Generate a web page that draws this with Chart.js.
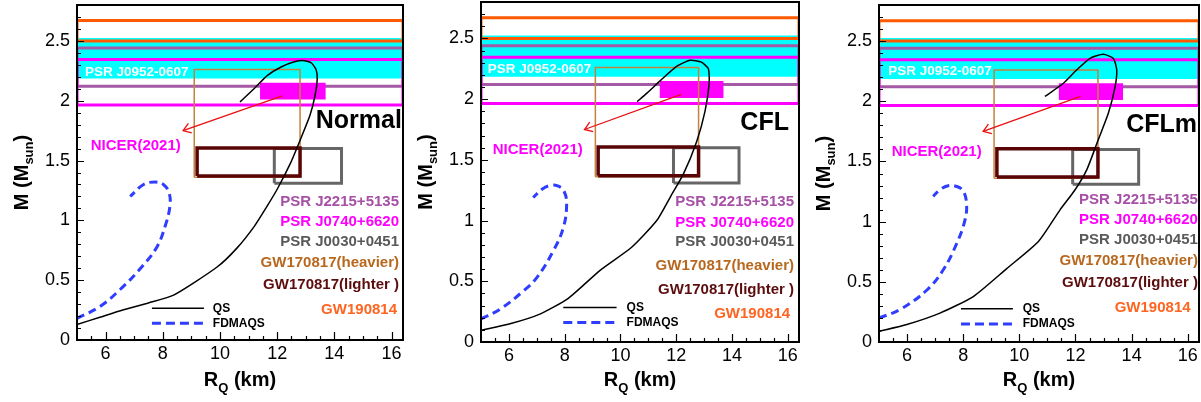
<!DOCTYPE html>
<html>
<head>
<meta charset="utf-8">
<script src="https://cdn.jsdelivr.net/npm/chart.js@4.4.1/dist/chart.umd.min.js"></script>
<style>
html, body { margin: 0; padding: 0; background: #fff; }
#wrap { position: relative; width: 1201px; height: 402px; overflow: hidden; }
canvas { position: absolute; top: 0; }
</style>
</head>
<body>
<div id="wrap">
<canvas id="c0" width="405" height="402" style="left:0px"></canvas>
<canvas id="c1" width="398" height="402" style="left:404px"></canvas>
<canvas id="c2" width="399" height="402" style="left:802px"></canvas>
</div>
<script>
// axes
const xRange = [5, 16.4];
const yRange = [0, 2.8];
const xTicks = [6, 8, 10, 12, 14, 16];
const yTicks = [0, 0.5, 1, 1.5, 2, 2.5];
const panelNames = ['Normal', 'CFL', 'CFLm'];

// M-R curves, [R (km), M (Msun)]
const qsNormal = [[5.0,0.13],[5.8,0.19],[6.6,0.25],[7.5,0.31],[8.38,0.375],[9.9,0.61],[10.6,0.77],[11.2,0.95],[11.6,1.1],[12.0,1.26],[12.47,1.48],[12.82,1.68],[13.15,1.88],[13.33,2.05],[13.4,2.18],[13.36,2.26],[13.2,2.315],[12.95,2.335],[12.6,2.325],[12.12,2.28],[11.65,2.21],[11.19,2.10],[10.7,1.99]];
const fdmNormal = [[5.0,0.18],[5.8,0.28],[6.5,0.42],[7.3,0.62],[7.8,0.78],[8.08,0.95],[8.25,1.12],[8.22,1.23],[8.02,1.30],[7.73,1.32],[7.33,1.30],[6.86,1.20]];
const qsCFL = [[5.0,0.096],[6.04,0.15],[7.11,0.23],[8.13,0.36],[9.27,0.59],[10.4,0.78],[11.3,1.0],[11.8,1.2],[12.25,1.38],[12.73,1.65],[13.03,1.90],[13.18,2.13],[13.15,2.25],[12.9,2.305],[12.5,2.32],[12.01,2.27],[11.42,2.15],[10.95,2.05],[10.6,1.98]];
const fdmCFL = [[5.0,0.19],[5.68,0.27],[6.52,0.42],[7.0,0.53],[7.59,0.75],[7.95,0.94],[8.07,1.135],[7.97,1.245],[7.75,1.285],[7.5,1.29],[7.2,1.26],[6.87,1.19]];
const qsCFLm = [[5.0,0.088],[5.99,0.145],[7.17,0.24],[8.36,0.378],[9.55,0.61],[10.68,0.835],[11.45,1.098],[11.98,1.263],[12.4,1.43],[12.81,1.68],[13.17,1.90],[13.41,2.12],[13.47,2.26],[13.35,2.356],[12.99,2.39],[12.52,2.357],[12.04,2.26],[11.57,2.15],[10.91,2.04]];
const fdmCFLm = [[5.0,0.20],[5.75,0.27],[6.70,0.43],[7.29,0.60],[7.77,0.82],[8.06,1.01],[8.12,1.15],[8.0,1.255],[7.8,1.29],[7.5,1.3],[7.2,1.27],[6.93,1.21]];
const qsCurves = [qsNormal, qsCFL, qsCFLm];
const fdmCurves = [fdmNormal, fdmCFL, fdmCFLm];

// observational constraints, [Rmin, Rmax, Mmin, Mmax]
const gw190814 = [5, 16.4, 2.50, 2.67];
const j0952 = [5, 16.4, 2.185, 2.525];
const j2215 = [5, 16.4, 2.12, 2.44];
const j0740 = [5, 16.4, 1.965, 2.345];
const nicer2021 = [11.4, 13.7, 2.01, 2.15];
const gw170817Heavy = [9.1, 12.8, 1.36, 2.26];
const gw170817Light = [9.2, 12.8, 1.37, 1.605];
const j0030 = [11.9, 14.25, 1.31, 1.60];
const nicerArrow = [[12.18, 2.04], [8.71, 1.75]];

const obsLabels = ['PSR J2215+5135', 'PSR J0740+6620', 'PSR J0030+0451', 'GW170817(heavier)', 'GW170817(lighter )', 'GW190814'];
const obsColors = ['#a650a6', '#ff00ff', '#5a5a5a', '#b8681e', '#5c0c0c', '#ff6420'];

// per panel placement
const panelLayout = [
  {padT: 5, padR: 2, xH: 62, nameAt: [16.36, 1.77], nicerAt: [5.48, 1.62], j0952At: [5.28, 2.235], legendAt: [7.62, 9.44, 9.75, 0.265, 0.14], labelR: [16.26, 16.19], labelM: [1.156, 0.989, 0.822, 0.641, 0.46, 0.25]},
  {padT: 2, padR: 3, xH: 60, nameAt: [16.04, 1.745], nicerAt: [5.42, 1.58], j0952At: [5.24, 2.245], legendAt: [7.95, 9.86, 10.22, 0.284, 0.16], labelR: [16.22, 16.08], labelM: [1.154, 0.984, 0.824, 0.624, 0.426, 0.228]},
  {padT: 5, padR: 2, xH: 60, nameAt: [16.33, 1.745], nicerAt: [5.45, 1.58], j0952At: [5.33, 2.25], legendAt: [7.92, 9.77, 10.12, 0.276, 0.149], labelR: [16.36, 16.1], labelM: [1.181, 1.015, 0.849, 0.675, 0.49, 0.282]}
];

const FONT = '"Liberation Sans", Arial, Helvetica, sans-serif';

function pts(a) { return a.map(p => ({x: p[0], y: p[1]})); }
function box(b) { return pts([[b[0],b[2]],[b[1],b[2]],[b[1],b[3]],[b[0],b[3]],[b[0],b[2]]]); }

const deco = {
  id: 'deco',
  afterDatasetsDraw(chart, args, opts) {
    const lay = panelLayout[opts.idx];
    const ctx = chart.ctx, a = chart.chartArea;
    const X = v => chart.scales.x.getPixelForValue(v);
    const Y = v => chart.scales.y.getPixelForValue(v);
    ctx.save();

    // arrow head at the NICER arrow tip
    const tx = X(nicerArrow[1][0]), ty = Y(nicerArrow[1][1]);
    const fx = X(nicerArrow[0][0]), fy = Y(nicerArrow[0][1]);
    const ang = Math.atan2(fy - ty, fx - tx);
    ctx.strokeStyle = '#e81010';
    ctx.lineWidth = 1.3;
    ctx.beginPath();
    ctx.moveTo(tx + 9 * Math.cos(ang + 0.6), ty + 9 * Math.sin(ang + 0.6));
    ctx.lineTo(tx, ty);
    ctx.lineTo(tx + 9 * Math.cos(ang - 0.6), ty + 9 * Math.sin(ang - 0.6));
    ctx.stroke();

    // texts
    ctx.textBaseline = 'middle';
    ctx.textAlign = 'left';
    ctx.fillStyle = '#fff';
    ctx.font = 'bold 13.5px ' + FONT;
    ctx.fillText('PSR J0952-0607', X(lay.j0952At[0]), Y(lay.j0952At[1]));
    ctx.fillStyle = '#ff00ff';
    ctx.font = 'bold 15px ' + FONT;
    ctx.fillText('NICER(2021)', X(lay.nicerAt[0]), Y(lay.nicerAt[1]));

    ctx.textAlign = 'right';
    ctx.font = 'bold 15px ' + FONT;
    obsLabels.forEach((t, k) => {
      ctx.fillStyle = obsColors[k];
      const r = k === obsLabels.length - 1 ? lay.labelR[1] : lay.labelR[0];
      ctx.fillText(t, X(r), Y(lay.labelM[k]));
    });

    ctx.textBaseline = 'alphabetic';
    ctx.fillStyle = '#000';
    ctx.font = 'bold 25px ' + FONT;
    ctx.fillText(panelNames[opts.idx], X(lay.nameAt[0]), Y(lay.nameAt[1]));

    // legend
    const lg = lay.legendAt;
    ctx.strokeStyle = '#000';
    ctx.lineWidth = 1.5;
    ctx.beginPath();
    ctx.moveTo(X(lg[0]), Y(lg[3])); ctx.lineTo(X(lg[1]), Y(lg[3]));
    ctx.stroke();
    ctx.strokeStyle = '#2f3dff';
    ctx.lineWidth = 3;
    ctx.setLineDash([9, 5]);
    ctx.beginPath();
    ctx.moveTo(X(lg[0]), Y(lg[4])); ctx.lineTo(X(lg[1]), Y(lg[4]));
    ctx.stroke();
    ctx.setLineDash([]);
    ctx.fillStyle = '#000';
    ctx.textAlign = 'left';
    ctx.textBaseline = 'middle';
    ctx.font = 'bold 12px ' + FONT;
    ctx.fillText('QS', X(lg[2]), Y(lg[3]));
    ctx.fillText('FDMAQS', X(lg[2]), Y(lg[4]));

    // inward ticks
    ctx.strokeStyle = '#000';
    ctx.lineWidth = 1.2;
    ctx.beginPath();
    for (let v = 5.5; v <= 16.01; v += 0.5) {
      const major = xTicks.some(t => Math.abs(t - v) < 1e-6);
      const px = Math.round(X(v)) + 0.5;
      ctx.moveTo(px, a.bottom); ctx.lineTo(px, a.bottom - (major ? 8 : 4));
    }
    for (let k = 1; k <= 27; k++) {
      const v = k / 10;
      const major = k % 5 === 0;
      const py = Math.round(Y(v)) + 0.5;
      ctx.moveTo(a.left, py); ctx.lineTo(a.left + (major ? 7 : 4), py);
    }
    ctx.stroke();

    // frame
    ctx.lineWidth = 2;
    ctx.strokeRect(a.left, a.top, a.right - a.left, a.bottom - a.top);
    ctx.restore();
  },
  afterDraw(chart) {
    const ctx = chart.ctx, a = chart.chartArea;
    ctx.save();
    ctx.fillStyle = '#000';
    ctx.textBaseline = 'alphabetic';
    ctx.textAlign = 'left';
    // x title: R_Q (km)
    const big = 'bold 20px ' + FONT, small = 'bold 13px ' + FONT;
    ctx.font = big; const w1 = ctx.measureText('R').width, w3 = ctx.measureText(' (km)').width;
    ctx.font = small; const w2 = ctx.measureText('Q').width;
    let x0 = (a.left + a.right) / 2 - (w1 + w2 + w3) / 2;
    ctx.font = big; ctx.fillText('R', x0, 386);
    ctx.font = small; ctx.fillText('Q', x0 + w1, 392);
    ctx.font = big; ctx.fillText(' (km)', x0 + w1 + w2, 386);
    // y title: M (M_sun)
    ctx.translate(28, (a.top + a.bottom) / 2);
    ctx.rotate(-Math.PI / 2);
    ctx.font = big; const v1 = ctx.measureText('M (M').width, v3 = ctx.measureText(')').width;
    ctx.font = small; const v2 = ctx.measureText('sun').width;
    let y0 = -(v1 + v2 + v3) / 2;
    ctx.font = big; ctx.fillText('M (M', y0, 0);
    ctx.font = small; ctx.fillText('sun', y0 + v1, 5);
    ctx.font = big; ctx.fillText(')', y0 + v1 + v2, 0);
    ctx.restore();
  }
};

function makePanel(i) {
  const lay = panelLayout[i];
  const layers = [];
  const add = d => layers.push(Object.assign({showLine: true, pointRadius: 0, fill: false, tension: 0, borderWidth: 1, clip: 0}, d));
  add({data: pts([[j0952[0], j0952[3]], [j0952[1], j0952[3]]]), fill: {value: j0952[2]}, backgroundColor: '#00ffff', borderWidth: 0});
  add({data: box(j2215), borderColor: '#a45aa4', borderWidth: 3});
  add({data: box(j0740), borderColor: '#ff00ff', borderWidth: 3});
  add({data: box(gw190814), borderColor: '#ff5a00', borderWidth: 3});
  add({data: pts([[nicer2021[0], nicer2021[3]], [nicer2021[1], nicer2021[3]]]), fill: {value: nicer2021[2]}, backgroundColor: '#ff00ff', borderWidth: 0});
  add({data: box(j0030), borderColor: '#666666', borderWidth: 3});
  add({data: box(gw170817Heavy), borderColor: '#c3823e', borderWidth: 1.5});
  add({data: box(gw170817Light), borderColor: '#5a0505', borderWidth: 3.5});
  add({data: pts(nicerArrow), borderColor: '#e81010', borderWidth: 1.3});
  add({data: pts(fdmCurves[i]), borderColor: '#2f3dff', borderWidth: 3, borderDash: [8, 5], tension: 0.4, clip: 2});
  add({data: pts(qsCurves[i]), borderColor: '#000000', borderWidth: 1.5, tension: 0.2, clip: 2});

  new Chart(document.getElementById('c' + i), {
    type: 'scatter',
    data: {datasets: layers.reverse()},
    options: {
      responsive: false,
      animation: false,
      devicePixelRatio: 1,
      layout: {padding: {left: 0, right: lay.padR, top: lay.padT, bottom: 0}},
      plugins: {legend: {display: false}, tooltip: {enabled: false}, deco: {idx: i}},
      scales: {
        x: {
          type: 'linear', min: xRange[0], max: xRange[1],
          afterBuildTicks: s => { s.ticks = xTicks.map(v => ({value: v})); },
          afterFit: s => { s.height = lay.xH; s.paddingLeft = 0; s.paddingRight = 0; },
          grid: {display: false, drawTicks: false},
          border: {display: false},
          ticks: {color: '#000', font: {family: FONT, size: 18}, padding: 3, maxRotation: 0, autoSkip: false, callback: v => String(v)}
        },
        y: {
          type: 'linear', min: yRange[0], max: yRange[1],
          afterBuildTicks: s => { s.ticks = yTicks.map(v => ({value: v})); },
          afterFit: s => { s.width = 77; s.paddingTop = 0; s.paddingBottom = 0; },
          grid: {display: false, drawTicks: false},
          border: {display: false},
          ticks: {color: '#000', font: {family: FONT, size: 18}, padding: 7, autoSkip: false, callback: v => String(v)}
        }
      }
    },
    plugins: [deco]
  });
}

[0, 1, 2].forEach(makePanel);
</script>
</body>
</html>
